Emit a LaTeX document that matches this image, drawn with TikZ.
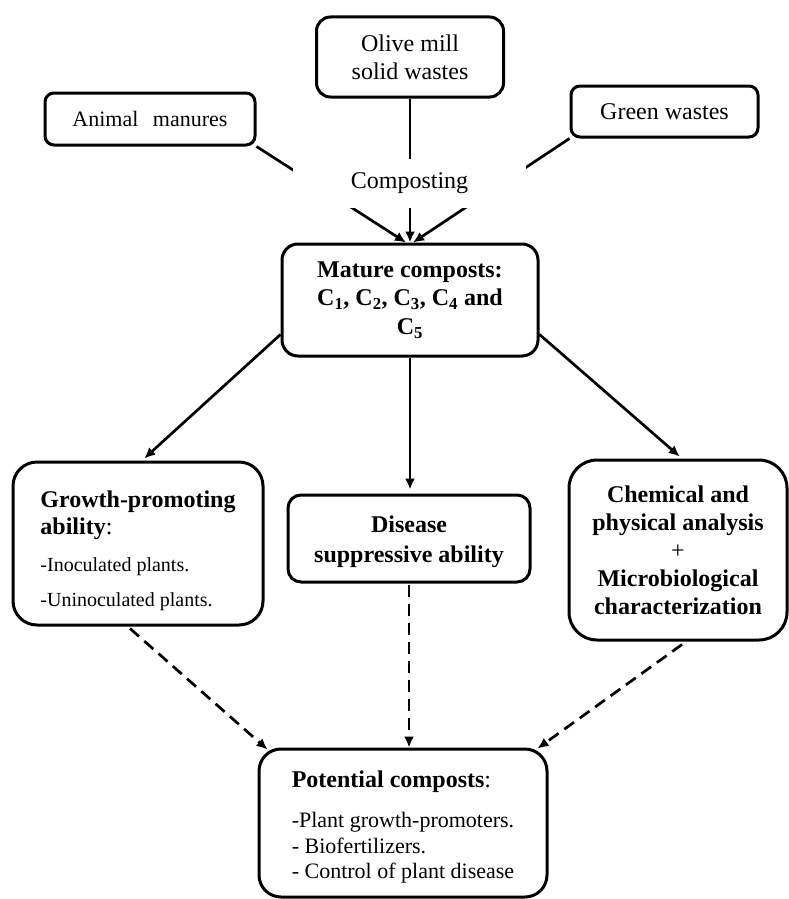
\documentclass[tikz,border=0pt]{standalone}
\usepackage{fontspec}
\setmainfont{Liberation Serif}
\usetikzlibrary{arrows.meta,positioning,calc}

\begin{document}
\begin{tikzpicture}[x=1pt, y=-1pt,
  bx/.style={draw, line width=3pt, rounded corners=14pt, align=center, inner sep=0pt, font=\fontsize{24}{28}\selectfont},
  ar/.style={-{Latex[length=11pt,width=10pt]}, line width=2.7pt},
  da/.style={ar, dash pattern=on 12pt off 7pt}]
\useasboundingbox (0,0) rectangle (788,899);
% sources
\node[bx, minimum width=187, minimum height=80] (olive) at (410,57) {Olive mill\\solid wastes};
\node[bx, rounded corners=9pt, minimum width=210, minimum height=52, font=\fontsize{22}{26}\selectfont] (animal) at (150,119) {Animal\hspace{9pt} manures};
\node[bx, rounded corners=9pt, minimum width=187, minimum height=51] (green) at (664.5,111.5) {Green wastes};
% composts
\node[bx, rounded corners=16pt, minimum width=256, minimum height=112, font=\fontsize{24}{28.5}\selectfont\bfseries] (mature) at (410,300)
  {Mature composts:\\C\textsubscript{1}, C\textsubscript{2}, C\textsubscript{3}, C\textsubscript{4} and\\C\textsubscript{5}};
\draw[ar] (animal.south east) -- ([xshift=-4pt]mature.north);
\draw[ar] (olive.south) -- (mature.north);
\draw[ar] (green.south west) -- ([xshift=3pt]mature.north);
\node[fill=white, minimum width=233, minimum height=49, inner sep=0pt, font=\fontsize{24}{28}\selectfont] (comp) at (409.5,183) {Composting};
% tests
\node[bx, rounded corners=24pt, minimum width=250, minimum height=163, font=\fontsize{20}{26.5}\selectfont] (growth) at (138,543.5)
  {\raisebox{-8pt}[\height][\depth]{\begin{tabular}{@{}l@{}}{\fontsize{24}{26.5}\selectfont\textbf{Growth-promoting}}\\{\fontsize{24}{26.5}\selectfont\textbf{ability}:}\\[10.5pt]-Inoculated plants.\\[8.5pt]-Uninoculated plants.\end{tabular}}};
\node[bx, rounded corners=13pt, minimum width=242, minimum height=87, font=\fontsize{24}{30}\selectfont\bfseries] (disease) at (409,538.5) {\raisebox{-3pt}[\height][\depth]{\begin{tabular}{@{}c@{}}Disease\\suppressive ability\end{tabular}}};
\node[bx, rounded corners=28pt, minimum width=218, minimum height=180] (chem) at (678,550)
  {\textbf{Chemical and}\\\textbf{physical analysis}\\+\\\textbf{Microbiological}\\\textbf{characterization}};
\draw[ar, shorten >=3pt] ([yshift=23pt]mature.south west) -- ([xshift=4pt]growth.north);
\draw[ar, shorten >=4pt] (mature.south) -- (mature.south |- disease.north);
\draw[ar, shorten >=3pt] ([yshift=23pt]mature.south east) -- ([xshift=4pt]chem.north);
% result
\node[bx, rounded corners=22pt, minimum width=288, minimum height=148, font=\fontsize{22}{25.5}\selectfont] (pot) at (403,823)
  {\raisebox{-5pt}[\height][\depth]{\begin{tabular}{@{}l@{}}{\fontsize{24}{25.5}\selectfont\textbf{Potential composts}:}\\[14.5pt]-Plant growth-promoters.\\- Biofertilizers.\\- Control of plant disease\end{tabular}}};
\draw[da] ([xshift=-8pt,yshift=-2pt]growth.south) -- ([xshift=10pt,yshift=-2pt]pot.north west);
\draw[da] ([yshift=-1pt]disease.south) -- (disease.south |- pot.north);
\draw[da] ([xshift=4pt,yshift=-3pt]chem.south) -- ([xshift=-11pt,yshift=-1pt]pot.north east);
\end{tikzpicture}
\end{document}
